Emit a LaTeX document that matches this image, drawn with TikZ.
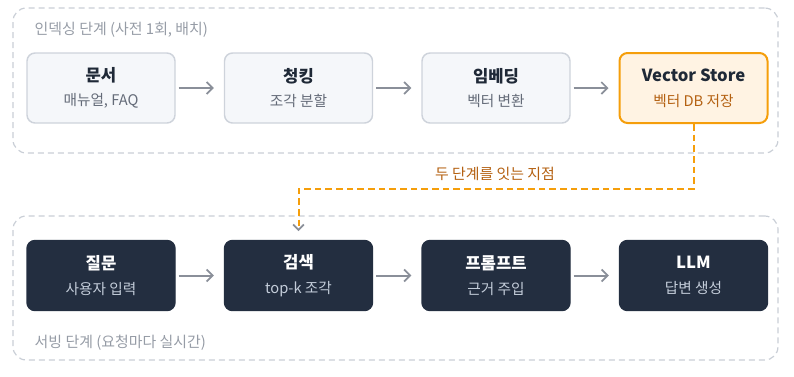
\documentclass[tikz,border=0pt]{standalone}
\usepackage{fontspec}
\setmainfont{Noto Sans CJK KR}
\definecolor{inkdark}{RGB}{31,41,55}
\definecolor{subgray}{RGB}{100,107,120}
\definecolor{boxlight}{RGB}{245,247,250}
\definecolor{boxline}{RGB}{206,211,219}
\definecolor{navyfill}{RGB}{35,46,64}
\definecolor{navysub}{RGB}{196,205,218}
\definecolor{amberline}{RGB}{245,158,11}
\definecolor{amberfill}{RGB}{255,243,227}
\definecolor{ambertext}{RGB}{180,97,18}
\definecolor{groupline}{RGB}{201,206,214}
\definecolor{grouptext}{RGB}{150,156,166}
\definecolor{arrowgray}{RGB}{138,143,153}
\usepackage{tikz}
\usetikzlibrary{arrows.meta,positioning}

\begin{document}
\begin{tikzpicture}[x=0.75pt, y=-0.75pt,
		group/.style={draw=groupline, dashed, dash pattern=on 4.5pt off 3pt, line width=0.9pt,
			rounded corners=10pt, minimum width=573.75pt},
		grouplabel/.style={anchor=west, text=grouptext, font=\fontsize{11.2pt}{13pt}\selectfont},
		stepbox/.style={draw=boxline, line width=1.1pt, rounded corners=6pt,
			minimum width=111pt, minimum height=52.5pt, align=center,
			fill=boxlight, text=inkdark, font=\fontsize{12.5pt}{18.5pt}\selectfont},
		storebox/.style={stepbox, draw=amberline, line width=1.5pt, fill=amberfill},
		darkbox/.style={stepbox, draw=navyfill, fill=navyfill, text=white},
		arrow/.style={-{Straight Barb[length=4.5pt, width=9pt, line width=1.3pt]},
			line width=1.5pt, arrowgray, shorten <=2.25pt, shorten >=7.5pt},
		link/.style={-{Straight Barb[length=4pt, width=8pt, line width=1.3pt, color=arrowgray]},
			line width=1.5pt, amberline, dashed, dash pattern=on 5pt off 3pt}
	]
		\useasboundingbox (0,0) rectangle (794,376);
		% indexing stage
		\node[group, minimum height=108.75pt] (idx) at (395.5,80.5) {};
		\node[grouplabel] (idxlabel) at (30,30) {인덱싱 단계 (사전 1회, 배치)};
		\node[stepbox] (doc) at (101,88) {\textbf{문서}\\{\color{subgray}\fontsize{11pt}{18.5pt}\selectfont 매뉴얼, FAQ}};
		\node[stepbox] (chunk) at (298.5,88) {\textbf{청킹}\\{\color{subgray}\fontsize{11pt}{18.5pt}\selectfont 조각 분할}};
		\node[stepbox] (embed) at (496,88) {\textbf{임베딩}\\{\color{subgray}\fontsize{11pt}{18.5pt}\selectfont 벡터 변환}};
		\node[storebox] (vs) at (693.5,88) {\textbf{Vector Store}\\{\color{ambertext}\fontsize{11pt}{18.5pt}\selectfont 벡터 DB 저장}};
		\draw[arrow] (doc.east) -- (chunk.west);
		\draw[arrow] (chunk.east) -- (embed.west);
		\draw[arrow] (embed.east) -- (vs.west);
		% serving stage
		\node[group, minimum height=108pt] (srv) at (395.5,288) {};
		\node[grouplabel] (srvlabel) at (30,343) {서빙 단계 (요청마다 실시간)};
		\node[darkbox] (ask) at (101,275.5) {\textbf{질문}\\{\color{navysub}\fontsize{11pt}{18.5pt}\selectfont 사용자 입력}};
		\node[darkbox] (srch) at (298.5,275.5) {\textbf{검색}\\{\color{navysub}\fontsize{11pt}{18.5pt}\selectfont top-k 조각}};
		\node[darkbox] (prompt) at (496,275.5) {\textbf{프롬프트}\\{\color{navysub}\fontsize{11pt}{18.5pt}\selectfont 근거 주입}};
		\node[darkbox] (llm) at (693.5,275.5) {\textbf{LLM}\\{\color{navysub}\fontsize{11pt}{18.5pt}\selectfont 답변 생성}};
		\draw[arrow] (ask.east) -- (srch.west);
		\draw[arrow] (srch.east) -- (prompt.west);
		\draw[arrow] (prompt.east) -- (llm.west);
		% link between the two stages
		\coordinate (srchin) at (298.5,231);
		\draw[link] (vs.south) -- ++(0,65) -| (srchin);
		\node[text=ambertext, font=\fontsize{11.2pt}{13pt}\selectfont] (linklabel) at (495,174) {두 단계를 잇는 지점};
	\end{tikzpicture}
\end{document}
